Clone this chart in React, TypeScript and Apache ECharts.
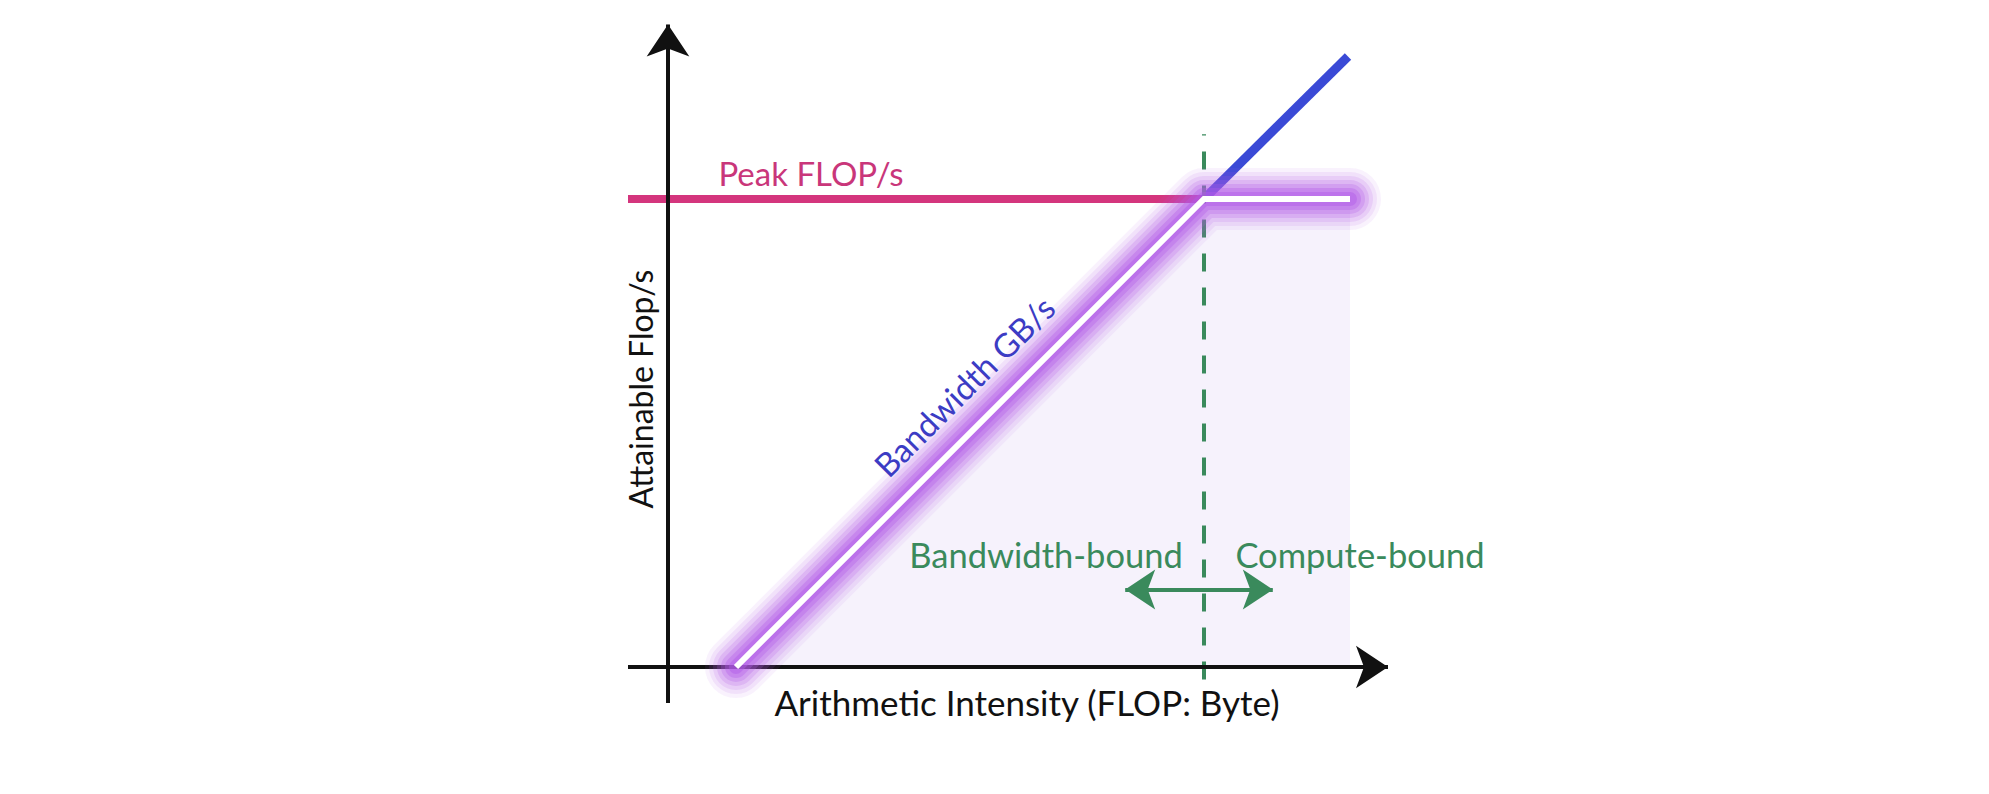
import React, { useEffect, useRef } from "react";
import * as echarts from "echarts";

// Abstract roofline units (x: arithmetic intensity, y: attainable FLOP/s)
const xAxisLine = [[-1, 0], [18, 0]];
const yAxisLine = [[0, -1], [0, 17.85]];
const peakLine = [[-1, 13], [13.4, 13]];
const bandwidthExtension = [[13.4, 13], [17, 16.96]];
const roofline = [[1.7, 0], [13.4, 13], [17.05, 13]];
const ridgeDashed = [[13.4, -0.35], [13.4, 14.8]];
const boundArrow = [[11.43, 2.15], [15.12, 2.15]];

const labels = {
  peak: "Peak FLOP/s",
  bandwidth: "Bandwidth GB/s",
  xTitle: "Arithmetic Intensity (FLOP: Byte)",
  yTitle: "Attainable Flop/s",
  bwBound: "Bandwidth-bound",
  cpBound: "Compute-bound",
};

const FONT = "Lato, 'Noto Sans', sans-serif";

// glow layers: [width, opacity]
const glowLayers = [
  [62, 0.08],
  [54, 0.11],
  [46, 0.15],
  [38, 0.2],
  [30, 0.26],
  [22, 0.34],
  [14, 0.45],
];

export default function App() {
  const ref = useRef<HTMLDivElement>(null);
  useEffect(() => {
    document.body.style.margin = "0";
    const chart = echarts.init(ref.current!, null, { renderer: "svg" });
    const lineBase = {
      type: "line",
      showSymbol: false,
      symbol: "none",
      silent: true,
      animation: false,
    };
    const mk = (pts: number[][], sym: string[], color: string, width: number, size: number[]) => ({
      silent: true,
      animation: false,
      symbol: sym,
      symbolSize: size,
      label: { show: false },
      lineStyle: { color, width, type: "solid" },
      emphasis: { disabled: true },
      data: [[{ coord: pts[0] }, { coord: pts[1] }]],
    });
    const glowSeries = glowLayers.map(([w, o], i) => ({
      ...lineBase,
      name: "glow" + i,
      data: roofline,
      lineStyle: {
        color: "#b25ce8",
        opacity: o,
        width: w,
        cap: "round",
        join: "round",
      },
      z: 5,
    }));
    const textBase = { fontFamily: FONT, align: "center", verticalAlign: "middle" };
    chart.setOption({
      animation: false,
      backgroundColor: "#ffffff",
      grid: { left: 628, width: 760, top: 19, height: 684, containLabel: false },
      xAxis: { type: "value", min: -1, max: 18, show: false },
      yAxis: { type: "value", min: -1, max: 18, show: false },
      series: [
        {
          ...lineBase,
          name: "fill",
          data: roofline,
          lineStyle: { width: 0, opacity: 0 },
          areaStyle: { color: "#f6f2fc", opacity: 1, origin: "auto" },
          z: 1,
        },
        {
          ...lineBase,
          name: "axes",
          data: [],
          z: 2,
          markLine: {
            ...mk(xAxisLine, ["none", "arrow"], "#111111", 4, [32, 32]),
            data: [
              [{ coord: xAxisLine[0] }, { coord: xAxisLine[1] }],
              [{ coord: yAxisLine[0] }, { coord: yAxisLine[1] }],
            ],
          },
        },
        {
          ...lineBase,
          name: "peak",
          data: peakLine,
          lineStyle: { color: "#d4357d", width: 8 },
          z: 3,
        },
        {
          ...lineBase,
          name: "bandwidthExt",
          data: bandwidthExtension,
          lineStyle: { color: "#3a4ad6", width: 9 },
          z: 3,
        },
        {
          ...lineBase,
          name: "ridge",
          data: ridgeDashed,
          lineStyle: { color: "#3a8a5c", width: 4, type: [18, 16] },
          z: 4,
        },
        ...glowSeries,
        {
          ...lineBase,
          name: "roofline",
          data: roofline,
          lineStyle: { color: "#ffffff", width: 6, join: "miter" },
          z: 6,
        },
        {
          ...lineBase,
          name: "bound",
          data: [],
          z: 7,
          markLine: mk(boundArrow, ["arrow", "arrow"], "#3a8a5c", 4, [30, 30]),
        },
      ],
      graphic: [
        {
          type: "text",
          x: 811,
          y: 173,
          z: 100,
          style: { ...textBase, text: labels.peak, fontSize: 33, fill: "#c9367a" },
        },
        {
          type: "text",
          x: 964,
          y: 386,
          z: 100,
          rotation: Math.PI / 4,
          style: { ...textBase, text: labels.bandwidth, fontSize: 33, fill: "#3c3cc4" },
        },
        {
          type: "text",
          x: 1027,
          y: 702,
          z: 100,
          style: { ...textBase, text: labels.xTitle, fontSize: 35, fill: "#111111" },
        },
        {
          type: "text",
          x: 640,
          y: 389,
          z: 100,
          rotation: Math.PI / 2,
          style: { ...textBase, text: labels.yTitle, fontSize: 32, fill: "#111111" },
        },
        {
          type: "text",
          x: 1046,
          y: 554,
          z: 100,
          style: { ...textBase, text: labels.bwBound, fontSize: 34.5, fill: "#3a8a5c" },
        },
        {
          type: "text",
          x: 1360,
          y: 554,
          z: 100,
          style: { ...textBase, text: labels.cpBound, fontSize: 34.5, fill: "#3a8a5c" },
        },
      ],
    });
    return () => chart.dispose();
  }, []);
  return <div ref={ref} style={{ width: 1989, height: 794 }} />;
}
